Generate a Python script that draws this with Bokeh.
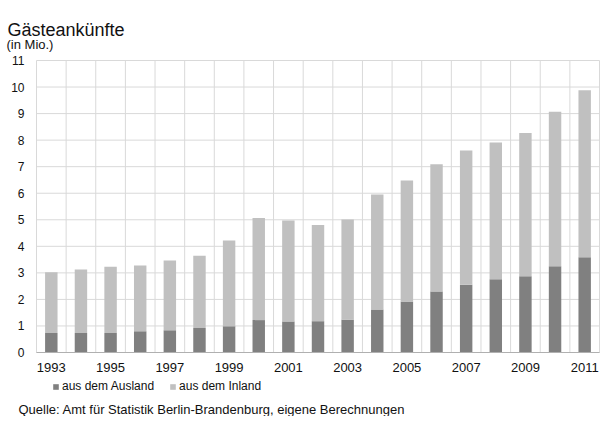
from bokeh.plotting import figure
from bokeh.models import (FixedTicker, Legend, LegendItem, Label, ColumnDataSource, Range1d)
from bokeh.embed import file_html
from bokeh.resources import INLINE

years = list(range(1993, 2012))
ausland = [0.73, 0.73, 0.73, 0.80, 0.84, 0.92, 0.99, 1.22, 1.17, 1.18,
           1.24, 1.62, 1.92, 2.30, 2.55, 2.76, 2.87, 3.25, 3.59]
gesamt = [3.02, 3.13, 3.23, 3.28, 3.47, 3.64, 4.22, 5.07, 4.97, 4.80,
          5.01, 5.95, 6.48, 7.09, 7.61, 7.91, 8.27, 9.07, 9.88]
inland = [round(g - a, 2) for g, a in zip(gesamt, ausland)]
y_ticks = list(range(0, 12))
x_label_years = [1993, 1995, 1997, 1999, 2001, 2003, 2005, 2007, 2009, 2011]
series_labels = ["aus dem Ausland", "aus dem Inland"]

FONT = "Liberation Sans"
DARK = "#808080"
LIGHT = "#c0c0c0"
GRID = "#d9d9d9"
TXT = "#111111"

W, H = 600, 416
# pixel layout of the plotting area inside the canvas
left_px, right_px, top_px, bottom_px = 36, 599, 60, 352

x_lo, x_hi = years[0] - 0.5, years[-1] + 0.5
y_lo, y_hi = y_ticks[0], y_ticks[-1]
sx = (right_px - left_px) / (x_hi - x_lo)
sy = (bottom_px - top_px) / (y_hi - y_lo)
x_range = Range1d(x_lo - left_px / sx, x_hi + (W - right_px) / sx)
y_range = Range1d(y_lo - (H - bottom_px) / sy, y_hi + top_px / sy)

src = ColumnDataSource(dict(year=years, ausland=ausland, inland=inland))

p = figure(width=W, height=H, output_backend="svg", toolbar_location=None,
           x_range=x_range, y_range=y_range, min_border=0,
           outline_line_color=None)
p.grid.visible = False

# grid lines limited to the plotting area
bounds_x = [y - 0.5 for y in years] + [years[-1] + 0.5]
p.segment(x0=bounds_x, y0=[y_lo] * len(bounds_x), x1=bounds_x, y1=[y_hi] * len(bounds_x),
          line_color=GRID, line_width=1)
p.segment(x0=[x_lo] * len(y_ticks), y0=y_ticks, x1=[x_hi] * len(y_ticks), y1=y_ticks,
          line_color=GRID, line_width=1)

r = p.vbar_stack(["ausland", "inland"], x="year", width=0.42, source=src,
                 color=[DARK, LIGHT], line_color=None)

p.xaxis.fixed_location = y_lo
p.xaxis.bounds = (x_lo, x_hi)
p.xaxis.ticker = FixedTicker(ticks=x_label_years)
p.xaxis.major_tick_line_color = None
p.xaxis.minor_tick_line_color = None
p.xaxis.axis_line_color = "#b0b0b0"
p.xaxis.major_label_text_font = FONT
p.xaxis.major_label_text_font_size = "13px"
p.xaxis.major_label_text_color = TXT
p.xaxis.major_label_standoff = 4

p.yaxis.fixed_location = x_lo
p.yaxis.bounds = (y_lo, y_hi)
p.yaxis.ticker = FixedTicker(ticks=y_ticks)
p.yaxis.major_tick_line_color = None
p.yaxis.minor_tick_line_color = None
p.yaxis.axis_line_color = None
p.yaxis.major_label_text_font = FONT
p.yaxis.major_label_text_font_size = "12px"
p.yaxis.major_label_text_color = TXT
p.yaxis.major_label_standoff = 6

legend = Legend(items=[LegendItem(label=series_labels[0], renderers=[r[0]]),
                       LegendItem(label=series_labels[1], renderers=[r[1]])],
                orientation="horizontal", location=(52, 23),
                glyph_width=7, glyph_height=7, label_text_font=FONT,
                label_text_font_size="12px", label_standoff=3, spacing=15,
                padding=0, margin=0, border_line_color=None, label_height=12,
                background_fill_alpha=0, label_text_color=TXT)
p.add_layout(legend, "center")

p.add_layout(Label(x=7, y=387, x_units="screen", y_units="screen",
                   text="Gästeankünfte", text_font=FONT, text_font_size="18px",
                   text_color=TXT, text_baseline="alphabetic"))
p.add_layout(Label(x=6, y=372, x_units="screen", y_units="screen",
                   text="(in Mio.)", text_font=FONT, text_font_size="13px",
                   text_color=TXT, text_baseline="alphabetic"))
p.add_layout(Label(x=18, y=7, x_units="screen", y_units="screen",
                   text="Quelle: Amt für Statistik Berlin-Brandenburg, eigene Berechnungen",
                   text_font=FONT, text_font_size="13px", text_color=TXT,
                   text_baseline="alphabetic"))

open("out.html", "w").write(file_html(p, INLINE))
